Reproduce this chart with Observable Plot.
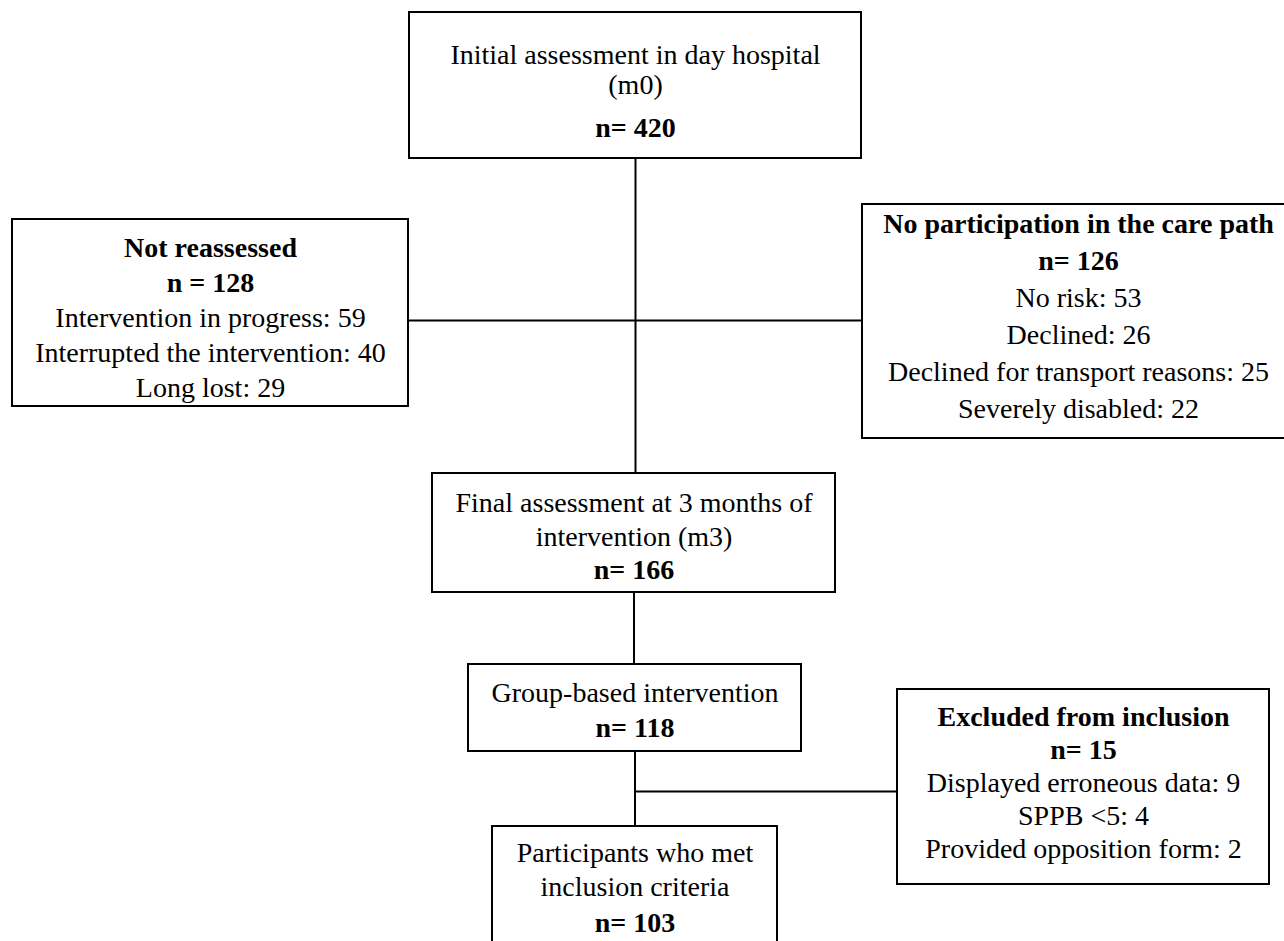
<!DOCTYPE html>
<html><head><meta charset="utf-8">
<script src="https://cdn.jsdelivr.net/npm/d3@7"></script>
<script src="https://cdn.jsdelivr.net/npm/@observablehq/plot@0.6"></script>
<style>html,body{margin:0;padding:0;background:#fff;overflow:hidden}#chart svg{display:block}</style>
</head><body><div id="chart"></div>
<script>
// ---- Content (data) ----
const boxIds = ["m0", "notReassessed", "noParticipation", "m3", "group", "excluded", "included"];
const boxTitles = [
  ["Initial assessment in day hospital", "(m0)"],
  ["Not reassessed"],
  ["No participation in the care path"],
  ["Final assessment at 3 months of", "intervention (m3)"],
  ["Group-based intervention"],
  ["Excluded from inclusion"],
  ["Participants who met", "inclusion criteria"]
];
const titleBold = [false, true, true, false, false, true, false];
const boxCounts = [420, 128, 126, 166, 118, 15, 103];
const countLabels = ["n= 420", "n = 128", "n= 126", "n= 166", "n= 118", "n= 15", "n= 103"];

const notReassessedReasons = ["Intervention in progress", "Interrupted the intervention", "Long lost"];
const notReassessedValues = [59, 40, 29];
const noParticipationReasons = ["No risk", "Declined", "Declined for transport reasons", "Severely disabled"];
const noParticipationValues = [53, 26, 25, 22];
const excludedReasons = ["Displayed erroneous data", "SPPB <5", "Provided opposition form"];
const excludedValues = [9, 4, 2];

// ---- Layout (positions in picture space) ----
const layout = {
  m0:              {x1: 409, x2: 861, y1: 12,  y2: 158, rows: [55, 85, 128]},
  notReassessed:   {x1: 12,  x2: 408, y1: 219, y2: 406, rows: [248, 283, 318, 353, 388]},
  noParticipation: {x1: 862, x2: 1294, y1: 204, y2: 438, rows: [224, 261, 298, 335, 372, 409]},
  m3:              {x1: 432, x2: 835, y1: 473, y2: 592, rows: [503, 537, 570]},
  group:           {x1: 468, x2: 801, y1: 664, y2: 751, rows: [693, 728]},
  excluded:        {x1: 897, x2: 1269, y1: 689, y2: 884, rows: [717, 750, 783, 816, 849]},
  included:        {x1: 492, x2: 777, y1: 826, y2: 960, rows: [853, 887, 923]}
};
const reasonsFor = {
  notReassessed: [notReassessedReasons, notReassessedValues],
  noParticipation: [noParticipationReasons, noParticipationValues],
  excluded: [excludedReasons, excludedValues]
};

// ---- Build tables ----
const boxes = boxIds.map(id => ({id, ...layout[id]}));
const rows = [];
boxIds.forEach((id, i) => {
  const L = layout[id];
  const cx = (L.x1 + L.x2) / 2;
  let k = 0;
  boxTitles[i].forEach(t => rows.push({x: cx, y: L.rows[k++], text: t, bold: titleBold[i]}));
  rows.push({x: cx, y: L.rows[k++], text: countLabels[i], bold: true});
  const r = reasonsFor[id];
  if (r) r[0].forEach((name, j) => rows.push({x: cx, y: L.rows[k++], text: `${name}: ${r[1][j]}`, bold: false}));
});

const mid = id => (layout[id].x1 + layout[id].x2) / 2;
const trunkX = mid("m0");
const connectors = [
  {x1: trunkX, y1: layout.m0.y2, x2: trunkX, y2: layout.m3.y1},
  {x1: layout.notReassessed.x2, y1: 320, x2: layout.noParticipation.x1, y2: 320},
  {x1: mid("m3"), y1: layout.m3.y2, x2: mid("m3"), y2: layout.group.y1},
  {x1: mid("group"), y1: layout.group.y2, x2: mid("group"), y2: layout.included.y1},
  {x1: mid("group"), y1: 791, x2: layout.excluded.x1, y2: 791}
];

const chart = Plot.plot({
  width: 1284,
  height: 941,
  margin: 0,
  x: {domain: [0, 1284], axis: null},
  y: {domain: [0, 941], reverse: true, axis: null},
  style: {fontFamily: "'Liberation Serif', 'Times New Roman', serif", background: "white", overflow: "hidden"},
  marks: [
    Plot.link(connectors, {x1: "x1", y1: "y1", x2: "x2", y2: "y2", stroke: "black", strokeWidth: 2}),
    Plot.rect(boxes, {x1: "x1", x2: "x2", y1: "y1", y2: "y2", fill: "white", stroke: "black", strokeWidth: 2}),
    Plot.text(rows.filter(d => !d.bold), {x: "x", y: "y", text: "text", fontSize: 28, fill: "black", textAnchor: "middle"}),
    Plot.text(rows.filter(d => d.bold), {x: "x", y: "y", text: "text", fontSize: 28, fontWeight: "bold", fill: "black", textAnchor: "middle"})
  ]
});
document.getElementById("chart").appendChild(chart);
</script></body></html>
